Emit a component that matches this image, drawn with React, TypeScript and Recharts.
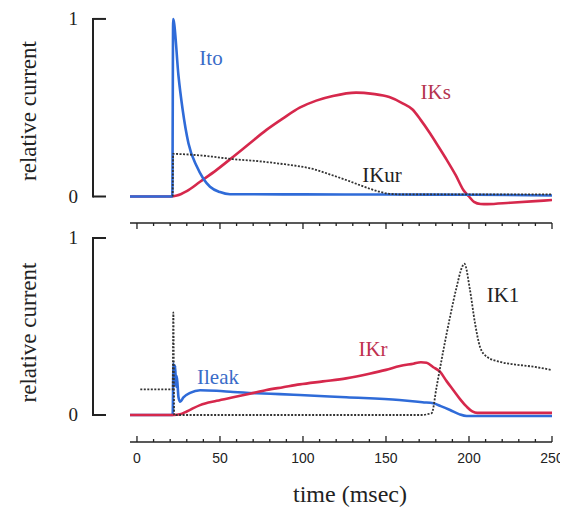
import { LineChart, Line, XAxis, YAxis, ReferenceDot } from "recharts";

// time in msec, value = relative current
const ITO = [
  [-4.2, 0], [21.3, 0], [21.8, 1.0], [22.3, 0.98], [25, 0.68], [27.5, 0.49], [31, 0.3],
  [36, 0.17], [40, 0.1], [44, 0.055], [50, 0.025], [56, 0.013], [100, 0.012], [150, 0.011],
  [200, 0.01], [250, 0.006]
];
const IKS = [
  [-4.2, 0], [20, 0], [24, 0.005], [30, 0.03], [38, 0.083], [48, 0.15], [58, 0.224], [68, 0.3],
  [78, 0.375], [88, 0.44], [98, 0.5], [108, 0.54], [118, 0.566], [132, 0.585], [142, 0.578],
  [152, 0.56], [160, 0.525], [166, 0.49], [171, 0.43], [176.5, 0.356], [181, 0.29], [186.6, 0.206],
  [192, 0.12], [196.6, 0.037], [200, 0], [203, -0.03], [207, -0.042], [211, -0.043], [225, -0.035],
  [240, -0.026], [250, -0.02]
];
const IKUR = [
  [21.5, 0], [21.8, 0.24], [30, 0.237], [45, 0.225], [58, 0.21], [72, 0.2], [86, 0.185], [98, 0.17],
  [106, 0.155], [116, 0.125], [126, 0.093], [136, 0.058], [146, 0.027], [152, 0.015], [160, 0.012],
  [200, 0.012], [250, 0.012]
];
const ILEAK = [
  [-4.2, 0], [21.5, 0], [22, 0.29], [22.5, 0.17], [23, 0.28], [23.5, 0.16], [24, 0.22], [25, 0.1],
  [26, 0.075], [28, 0.1], [32, 0.125], [38, 0.14], [48, 0.137], [58, 0.13], [72, 0.123], [86, 0.118],
  [98, 0.113], [126, 0.1], [158, 0.085], [166, 0.078], [172, 0.072], [178.5, 0.066], [183, 0.05],
  [188.6, 0.028], [194, 0.005], [198.6, -0.006], [250, -0.006]
];
const IKR = [
  [-4.2, 0], [22, 0], [26, 0.004], [30, 0.02], [38, 0.056], [48, 0.08], [58, 0.1], [68, 0.12],
  [78, 0.141], [88, 0.157], [98, 0.173], [112, 0.19], [126, 0.207], [140, 0.233], [150, 0.255],
  [158.4, 0.277], [166.5, 0.29], [171, 0.298], [174.5, 0.295], [178.5, 0.27], [182.5, 0.245],
  [186.6, 0.19], [190.6, 0.14], [194.6, 0.09], [198.6, 0.047], [202, 0.02], [205, 0.012], [250, 0.012]
];
const IK1 = [
  [2, 0.145], [21.5, 0.145], [21.9, 0.58], [22.4, 0], [172.5, 0], [175, 0.005], [177.5, 0.01],
  [180.5, 0.16], [184.6, 0.367], [188.6, 0.555], [192.6, 0.725], [195.6, 0.83], [197.2, 0.855],
  [200.6, 0.706], [203.6, 0.52], [206.6, 0.386], [210.6, 0.33], [218.7, 0.3], [228, 0.285],
  [238.7, 0.273], [250, 0.254]
];

const TIME_TICKS = [0, 10, 20, 30, 40, 50, 60, 70, 80, 90, 100, 110, 120, 130, 140, 150, 160, 170, 180, 190, 200, 210, 220, 230, 240, 250];
const Y_TICKS = [0, 1];

const TOP_NOTES = [
  { text: "Ito", t: 44.6, v: 0.78, color: "#3a6cc8" },
  { text: "IKs", t: 180, v: 0.589, color: "#b5344f" },
  { text: "IKur", t: 147.6, v: 0.121, color: "#222" }
];
const BOTTOM_NOTES = [
  { text: "IK1", t: 220.5, v: 0.678, color: "#222" },
  { text: "IKr", t: 142.2, v: 0.373, color: "#c0304f" },
  { text: "Ileak", t: 48.8, v: 0.22, color: "#3a6cc8" }
];

const X_DOMAIN: [number, number] = [-4.2, 250];
const TOP_Y: [number, number] = [-0.076, 1.039];
const BOT_Y: [number, number] = [-0.1525, 1.0847];
const TOP_PLOT_H = 198;
const BOT_PLOT_H = 219;

const BLUE = "#2f6bd8";
const RED = "#d6284c";
const INK = "#222";
const SERIF = "'Liberation Serif', serif";
const SANS = "'Liberation Sans', Arial, sans-serif";

const pts = (a: number[][]) => a.map(([t, v]) => ({ t, v }));

// bracket-style y axis: vertical bar between 0 and 1 with short caps
function BracketTick({ x, y, payload, unit }: any) {
  const bx = x - 37;
  return (
    <g>
      <line x1={bx} x2={bx + 13} y1={y} y2={y} stroke={INK} strokeWidth={2} />
      {payload.value === 1 ? (
        <line x1={bx} x2={bx} y1={y - 1} y2={y + unit + 1} stroke={INK} strokeWidth={2} />
      ) : null}
      <text x={bx - 15} y={y} dy="0.34em" textAnchor="end" fontFamily={SERIF} fontSize={19} fill={INK}>
        {payload.value}
      </text>
    </g>
  );
}

// ticks drawn on the inside of the time bars
function TimeTick({ x, y, payload, dir, labels }: any) {
  const major = payload.value % 50 === 0;
  const len = major ? 6 : 3;
  return (
    <g>
      <line x1={x} x2={x} y1={y} y2={y + dir * len} stroke={INK} strokeWidth={1.3} />
      {labels && major ? (
        <text x={x} y={y + 21} textAnchor="middle" fontFamily={SANS} fontSize={14} fill={INK}>
          {payload.value}
        </text>
      ) : null}
    </g>
  );
}

function yAxisFor(domain: [number, number], plotH: number) {
  const unit = plotH / (domain[1] - domain[0]);
  return (
    <YAxis
      type="number"
      domain={domain}
      allowDataOverflow
      ticks={Y_TICKS}
      width={122}
      axisLine={false}
      tickLine={false}
      tickSize={0}
      tickMargin={0}
      tick={(p: any) => <BracketTick {...p} unit={unit} />}
      label={{
        value: "relative current",
        angle: -90,
        position: "insideLeft",
        offset: 20,
        style: { textAnchor: "middle", fontFamily: SERIF, fontSize: 23, fill: INK }
      }}
    />
  );
}

const lineProps = { type: "monotone" as const, dataKey: "v", dot: false, isAnimationActive: false };
const axisLine = { stroke: INK, strokeWidth: 1.6 };

export default function App() {
  return (
    <div style={{ position: "relative", width: 560, height: 500, background: "#fff" }}>
      <style>{"body{overflow:hidden}"}</style>
      <div style={{ position: "absolute", left: 0, top: 0 }}>
        <LineChart width={560} height={215} margin={{ top: 4, right: 16, bottom: 13, left: 0 }}>
          <XAxis type="number" dataKey="t" domain={X_DOMAIN} allowDataOverflow hide />
          {yAxisFor(TOP_Y, TOP_PLOT_H)}
          <Line {...lineProps} data={pts(IKS)} stroke={RED} strokeWidth={2.6} />
          <Line {...lineProps} data={pts(ITO)} stroke={BLUE} strokeWidth={2.6} />
          <Line {...lineProps} data={pts(IKUR)} stroke="#333" strokeWidth={1.8} strokeDasharray="2 1.5" />
          {TOP_NOTES.map((n) => (
            <ReferenceDot
              key={n.text}
              x={n.t}
              y={n.v}
              r={0}
              fill="none"
              stroke="none"
              label={{ value: n.text, position: "center", fill: n.color, fontSize: 21, fontFamily: SERIF }}
            />
          ))}
        </LineChart>
      </div>
      <div style={{ position: "absolute", left: 0, top: 207 }}>
        <LineChart width={560} height={293} margin={{ top: 0, right: 16, bottom: 0, left: 0 }}>
          <XAxis
            xAxisId="top"
            orientation="top"
            type="number"
            dataKey="t"
            domain={X_DOMAIN}
            allowDataOverflow
            ticks={TIME_TICKS}
            interval={0}
            height={8}
            axisLine={axisLine}
            tickLine={false}
            tickSize={0}
            tickMargin={0}
            tick={(p: any) => <TimeTick {...p} dir={1} labels={false} />}
          />
          <XAxis
            xAxisId="bottom"
            orientation="bottom"
            type="number"
            dataKey="t"
            domain={X_DOMAIN}
            allowDataOverflow
            ticks={TIME_TICKS}
            interval={0}
            height={66}
            axisLine={axisLine}
            tickLine={false}
            tickSize={0}
            tickMargin={0}
            tick={(p: any) => <TimeTick {...p} dir={-1} labels />}
            label={{
              value: "time (msec)",
              position: "insideBottom",
              offset: 6,
              dx: 9,
              style: { fontFamily: SERIF, fontSize: 24, fill: INK }
            }}
          />
          {yAxisFor(BOT_Y, BOT_PLOT_H)}
          <Line {...lineProps} xAxisId="bottom" data={pts(ILEAK)} stroke={BLUE} strokeWidth={2.6} />
          <Line {...lineProps} xAxisId="bottom" data={pts(IKR)} stroke={RED} strokeWidth={2.6} />
          <Line {...lineProps} xAxisId="top" data={pts(IK1)} stroke="#333" strokeWidth={1.8} strokeDasharray="2 1.5" />
          {BOTTOM_NOTES.map((n) => (
            <ReferenceDot
              key={n.text}
              xAxisId="bottom"
              x={n.t}
              y={n.v}
              r={0}
              fill="none"
              stroke="none"
              label={{ value: n.text, position: "center", fill: n.color, fontSize: 21, fontFamily: SERIF }}
            />
          ))}
        </LineChart>
      </div>
    </div>
  );
}
